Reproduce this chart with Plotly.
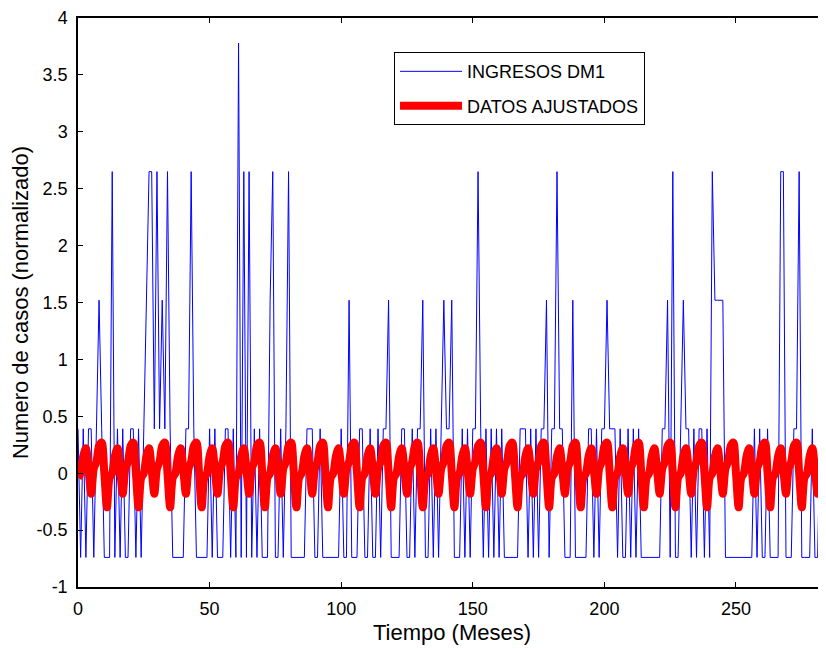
import plotly.graph_objects as go

# meses 0..284
MESES = list(range(285))

# niveles normalizados de los ingresos (0, 1, 2, 3, 4 casos)
NIVELES = [-0.74, 0.39, 1.52, 2.65, 3.78]

# casos por mes (indice en NIVELES)
CASOS = [
    1, 0, 1, 0, 1, 1, 0, 1, 2, 1,
    0, 0, 0, 3, 0, 1, 0, 1, 0, 0,
    1, 1, 0, 1, 0, 1, 2, 3, 3, 1,
    3, 1, 2, 1, 3, 1, 0, 0, 0, 0,
    0, 1, 1, 3, 1, 0, 0, 0, 0, 0,
    1, 0, 1, 0, 0, 0, 1, 1, 0, 1,
    0, 4, 0, 3, 0, 3, 0, 1, 0, 1,
    0, 0, 0, 2, 3, 0, 0, 1, 0, 1,
    3, 0, 0, 0, 0, 0, 0, 1, 1, 1,
    0, 0, 1, 0, 0, 0, 0, 0, 0, 0,
    1, 0, 0, 2, 0, 0, 0, 1, 1, 0,
    0, 1, 0, 0, 1, 0, 1, 1, 2, 0,
    0, 0, 0, 1, 1, 0, 0, 1, 0, 1,
    1, 2, 0, 0, 1, 0, 1, 0, 1, 2,
    1, 1, 2, 0, 0, 0, 1, 0, 1, 0,
    1, 1, 3, 1, 0, 1, 0, 1, 0, 1,
    0, 1, 0, 0, 0, 0, 0, 0, 1, 1,
    1, 0, 1, 0, 1, 0, 1, 1, 2, 0,
    1, 1, 3, 1, 1, 0, 0, 0, 2, 0,
    0, 0, 0, 0, 1, 1, 0, 1, 0, 1,
    1, 2, 1, 1, 1, 0, 1, 0, 0, 1,
    0, 1, 0, 1, 0, 0, 0, 0, 0, 0,
    0, 0, 1, 1, 2, 0, 3, 0, 0, 1,
    2, 1, 1, 0, 1, 0, 1, 1, 0, 1,
    0, 3, 2, 2, 2, 2, 0, 0, 0, 0,
    0, 0, 0, 0, 0, 0, 0, 1, 0, 1,
    0, 0, 1, 0, 0, 0, 0, 3, 3, 0,
    0, 0, 1, 1, 3, 0, 0, 0, 0, 1,
    0, 0, 1, 0, 1,
]

# datos ajustados (un renglon por año)
AJUSTADOS = [
    -0.04, 0.00, 0.15, 0.22, 0.03, -0.18, 0.04, 0.10, 0.24, 0.27, 0.00, -0.30,
    -0.04, 0.00, 0.15, 0.22, 0.03, -0.18, 0.04, 0.10, 0.24, 0.27, 0.00, -0.30,
    -0.04, 0.00, 0.15, 0.22, 0.03, -0.18, 0.04, 0.10, 0.24, 0.27, 0.00, -0.30,
    -0.04, 0.00, 0.15, 0.22, 0.03, -0.18, 0.04, 0.10, 0.24, 0.27, 0.00, -0.30,
    -0.04, 0.00, 0.15, 0.22, 0.03, -0.18, 0.04, 0.10, 0.24, 0.27, 0.00, -0.30,
    -0.04, 0.00, 0.15, 0.22, 0.03, -0.18, 0.04, 0.10, 0.24, 0.27, 0.00, -0.30,
    -0.04, 0.00, 0.15, 0.22, 0.03, -0.18, 0.04, 0.10, 0.24, 0.27, 0.00, -0.30,
    -0.04, 0.00, 0.15, 0.22, 0.03, -0.18, 0.04, 0.10, 0.24, 0.27, 0.00, -0.30,
    -0.04, 0.00, 0.15, 0.22, 0.03, -0.18, 0.04, 0.10, 0.24, 0.27, 0.00, -0.30,
    -0.04, 0.00, 0.15, 0.22, 0.03, -0.18, 0.04, 0.10, 0.24, 0.27, 0.00, -0.30,
    -0.04, 0.00, 0.15, 0.22, 0.03, -0.18, 0.04, 0.10, 0.24, 0.27, 0.00, -0.30,
    -0.04, 0.00, 0.15, 0.22, 0.03, -0.18, 0.04, 0.10, 0.24, 0.27, 0.00, -0.30,
    -0.04, 0.00, 0.15, 0.22, 0.03, -0.18, 0.04, 0.10, 0.24, 0.27, 0.00, -0.30,
    -0.04, 0.00, 0.15, 0.22, 0.03, -0.18, 0.04, 0.10, 0.24, 0.27, 0.00, -0.30,
    -0.04, 0.00, 0.15, 0.22, 0.03, -0.18, 0.04, 0.10, 0.24, 0.27, 0.00, -0.30,
    -0.04, 0.00, 0.15, 0.22, 0.03, -0.18, 0.04, 0.10, 0.24, 0.27, 0.00, -0.30,
    -0.04, 0.00, 0.15, 0.22, 0.03, -0.18, 0.04, 0.10, 0.24, 0.27, 0.00, -0.30,
    -0.04, 0.00, 0.15, 0.22, 0.03, -0.18, 0.04, 0.10, 0.24, 0.27, 0.00, -0.30,
    -0.04, 0.00, 0.15, 0.22, 0.03, -0.18, 0.04, 0.10, 0.24, 0.27, 0.00, -0.30,
    -0.04, 0.00, 0.15, 0.22, 0.03, -0.18, 0.04, 0.10, 0.24, 0.27, 0.00, -0.30,
    -0.04, 0.00, 0.15, 0.22, 0.03, -0.18, 0.04, 0.10, 0.24, 0.27, 0.00, -0.30,
    -0.04, 0.00, 0.15, 0.22, 0.03, -0.18, 0.04, 0.10, 0.24, 0.27, 0.00, -0.30,
    -0.04, 0.00, 0.15, 0.22, 0.03, -0.18, 0.04, 0.10, 0.24, 0.27, 0.00, -0.30,
    -0.04, 0.00, 0.15, 0.22, 0.03, -0.18, 0.04, 0.10, 0.24,
]

X_TICKS = [0, 50, 100, 150, 200, 250]
Y_TICKS = [-1, -0.5, 0, 0.5, 1, 1.5, 2, 2.5, 3, 3.5, 4]
Y_LABELS = ["-1", "-0.5", "0", "0.5", "1", "1.5", "2", "2.5", "3", "3.5", "4"]

ingresos = [NIVELES[c] for c in CASOS]

FONT = "Arial, Liberation Sans, sans-serif"

fig = go.Figure()
fig.add_trace(go.Scatter(x=MESES, y=ingresos, mode="lines", name="INGRESOS DM1",
                         line=dict(color="#0000FF", width=1), legendgroup="a"))
fig.add_trace(go.Scatter(x=MESES, y=AJUSTADOS, mode="lines", name="DATOS AJUSTADOS",
                         line=dict(color="#FF0000", width=8, shape="spline", smoothing=0.8),
                         legendgroup="b"))

# la pagina deja 8 px de margen arriba y a la izquierda
fig.update_layout(
    width=818, height=641,
    margin=dict(l=70, r=0, t=9.5, b=61.5),
    paper_bgcolor="white", plot_bgcolor="white",
    font=dict(family=FONT, size=18, color="black"),
    showlegend=True,
    legend=dict(x=0.4225, y=0.94, xanchor="left", yanchor="top",
                bgcolor="white", bordercolor="black", borderwidth=1,
                itemwidth=62, tracegroupgap=8, font=dict(size=18)),
)

fig.update_xaxes(range=[0, 284.2], tickvals=X_TICKS, ticks="inside", ticklen=5,
                 tickcolor="black", showline=True, linecolor="black", linewidth=1.5,
                 mirror="ticks", showgrid=False, zeroline=False, automargin=False,
                 ticklabelstandoff=5,
                 title=dict(text="Tiempo (Meses)", standoff=6))
fig.update_yaxes(range=[-1, 4], tickvals=Y_TICKS, ticktext=Y_LABELS, ticks="inside",
                 ticklen=5, tickcolor="black", showline=True, linecolor="black",
                 linewidth=1.5, mirror=False, showgrid=False, zeroline=False,
                 automargin=False, ticklabelstandoff=5,
                 title=dict(text="Numero de casos (normalizado)", standoff=10))

fig.write_html("out.html")
